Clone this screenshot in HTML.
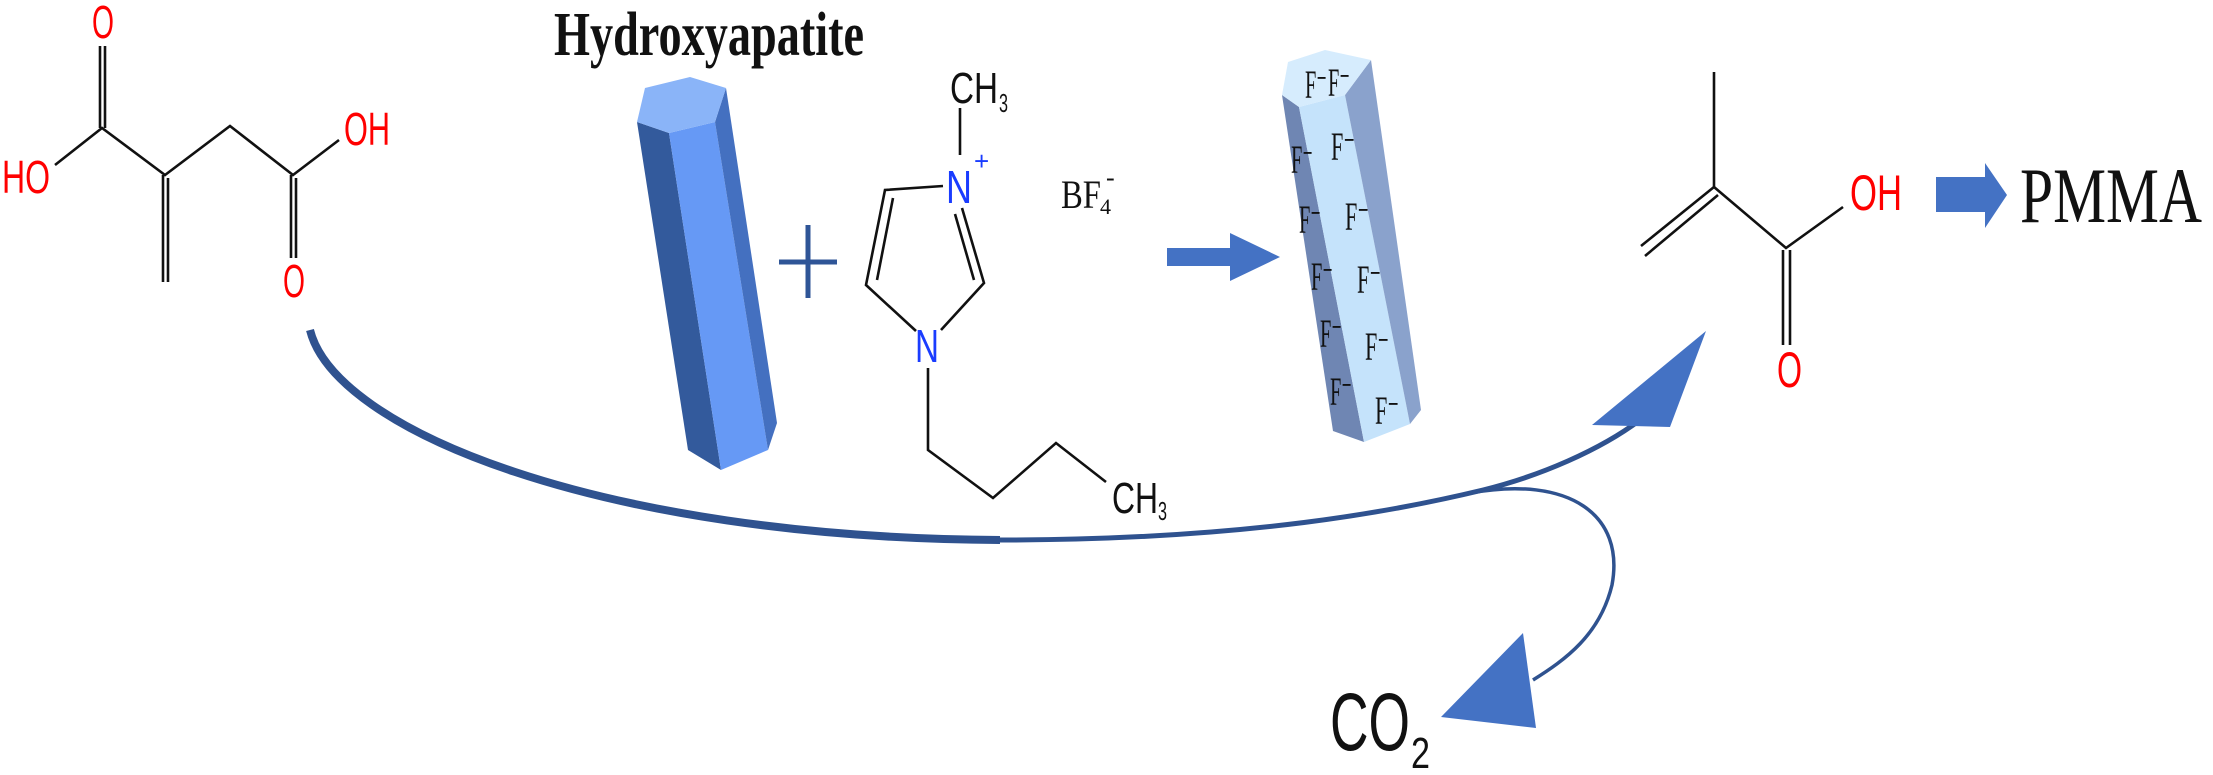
<!DOCTYPE html>
<html><head><meta charset="utf-8"><style>
html,body{margin:0;padding:0;background:#fff;}
svg{display:block;}
.k{stroke:#111;stroke-width:2.6;fill:none;}
.r{fill:#f00;font-family:"Liberation Sans",sans-serif;}
.b{fill:#1a3cff;font-family:"Liberation Sans",sans-serif;}
.t{fill:#111;font-family:"Liberation Serif",serif;}
.s{fill:#111;font-family:"Liberation Sans",sans-serif;}
</style></head><body>
<svg width="2213" height="775" viewBox="0 0 2213 775" xmlns="http://www.w3.org/2000/svg">
<!-- Itaconic acid -->
<text class="r" x="92" y="38" font-size="46" textLength="22" lengthAdjust="spacingAndGlyphs">O</text>
<line class="k" x1="100" y1="46" x2="100" y2="128"/><line class="k" x1="105" y1="46" x2="105" y2="128"/>
<polyline class="k" points="55,165 102,128 165,175 230,126 293,175 339,140"/>
<text class="r" x="2" y="193" font-size="46" textLength="48" lengthAdjust="spacingAndGlyphs">HO</text>
<line class="k" x1="163" y1="175" x2="163" y2="282"/><line class="k" x1="168" y1="178" x2="168" y2="282"/>
<text class="r" x="344" y="145" font-size="46" textLength="46" lengthAdjust="spacingAndGlyphs">OH</text>
<line class="k" x1="291" y1="175" x2="291" y2="258"/><line class="k" x1="296" y1="178" x2="296" y2="258"/>
<text class="r" x="283" y="297" font-size="46" textLength="22" lengthAdjust="spacingAndGlyphs">O</text>

<!-- Hydroxyapatite label -->
<text class="t" x="554" y="55" font-size="62" font-weight="bold" textLength="310" lengthAdjust="spacingAndGlyphs">Hydroxyapatite</text>
<!-- HAp rod -->
<polygon points="637,122 669,133 721,470 688,450" fill="#335a9c"/>
<polygon points="669,133 715,122 768,450 721,470" fill="#6699f5"/>
<polygon points="715,122 726,88 777,423 768,450" fill="#4470c0"/>
<polygon points="637,122 645,88 690,77 726,88 715,122 669,133" fill="#8ab4f8"/>
<!-- plus -->
<line x1="808" y1="225" x2="808" y2="298" stroke="#2f5597" stroke-width="5"/>
<line x1="779" y1="262" x2="837" y2="262" stroke="#2f5597" stroke-width="5"/>

<!-- Imidazolium -->
<text class="s" x="950" y="103" font-size="44" textLength="48" lengthAdjust="spacingAndGlyphs">CH</text>
<text class="s" x="999" y="112" font-size="26" textLength="9" lengthAdjust="spacingAndGlyphs">3</text>
<line class="k" x1="960" y1="108" x2="960" y2="155"/>
<text class="b" x="946" y="203" font-size="46" textLength="26" lengthAdjust="spacingAndGlyphs">N</text>
<text class="b" x="974" y="170" font-size="26">+</text>
<polyline class="k" points="943,186 885,190 866,285 916,331"/>
<line class="k" x1="893" y1="198" x2="877" y2="280"/>
<polyline class="k" points="962,208 984,283 941,330"/>
<line class="k" x1="955" y1="214" x2="974" y2="280"/>
<text class="b" x="915" y="362" font-size="46" textLength="24" lengthAdjust="spacingAndGlyphs">N</text>
<polyline class="k" points="928,368 928,450 993,498 1056,443 1106,482"/>
<text class="s" x="1112" y="513" font-size="44" textLength="46" lengthAdjust="spacingAndGlyphs">CH</text>
<text class="s" x="1158" y="520" font-size="26" textLength="9" lengthAdjust="spacingAndGlyphs">3</text>
<text class="t" x="1061" y="208" font-size="40" textLength="40" lengthAdjust="spacingAndGlyphs">BF</text>
<text class="t" x="1100" y="214" font-size="22">4</text>
<text class="t" x="1106" y="186" font-size="26">-</text>

<!-- arrow -->
<polygon points="1167,248 1230,248 1230,233 1280,257 1230,281 1230,266 1167,266" fill="#4472c4"/>

<!-- F rod -->
<polygon points="1282,95 1299,107 1364,442 1333,431" fill="#6f86b3"/>
<polygon points="1299,107 1345,95 1410,424 1364,442" fill="#c5e3fb"/>
<polygon points="1345,95 1371,60 1421,410 1410,424" fill="#8aa2cc"/>
<polygon points="1282,95 1288,62 1325,50 1371,60 1345,95 1299,107" fill="#d6ecfd"/>
<g class="t" font-size="40">
<text x="1305" y="98" textLength="22" lengthAdjust="spacingAndGlyphs">F⁻</text>
<text x="1328" y="96" textLength="22" lengthAdjust="spacingAndGlyphs">F⁻</text>
<text x="1291" y="173" textLength="22" lengthAdjust="spacingAndGlyphs">F⁻</text>
<text x="1299" y="233" textLength="22" lengthAdjust="spacingAndGlyphs">F⁻</text>
<text x="1311" y="290" textLength="22" lengthAdjust="spacingAndGlyphs">F⁻</text>
<text x="1320" y="347" textLength="22" lengthAdjust="spacingAndGlyphs">F⁻</text>
<text x="1330" y="405" textLength="22" lengthAdjust="spacingAndGlyphs">F⁻</text>
<text x="1331" y="160" textLength="24" lengthAdjust="spacingAndGlyphs">F⁻</text>
<text x="1345" y="230" textLength="24" lengthAdjust="spacingAndGlyphs">F⁻</text>
<text x="1357" y="293" textLength="24" lengthAdjust="spacingAndGlyphs">F⁻</text>
<text x="1365" y="360" textLength="24" lengthAdjust="spacingAndGlyphs">F⁻</text>
<text x="1375" y="424" textLength="24" lengthAdjust="spacingAndGlyphs">F⁻</text>
</g>

<!-- Big curved arrow -->
<path d="M310,330 C335,430 600,538 1000,540" fill="none" stroke="#2f528f" stroke-width="8"/>
<path d="M999,540 C1250,540 1400,510 1483,490 C1540,476 1600,450 1640,420" fill="none" stroke="#2f528f" stroke-width="5"/>
<polygon points="1592,425 1670,427 1706,331" fill="#4472c4"/>
<!-- small arc -->
<path d="M1470,493 C1570,475 1625,515 1612,585 C1600,635 1565,660 1533,680" fill="none" stroke="#2f528f" stroke-width="3.5"/>
<polygon points="1523,633 1536,728 1441,717" fill="#4472c4"/>
<text class="s" x="1330" y="750" font-size="82" textLength="80" lengthAdjust="spacingAndGlyphs">CO</text>
<text class="s" x="1411" y="768" font-size="44" textLength="19" lengthAdjust="spacingAndGlyphs">2</text>

<!-- Methacrylic acid -->
<line class="k" x1="1714" y1="72" x2="1714" y2="187"/>
<line class="k" x1="1714" y1="187" x2="1641" y2="246"/>
<line class="k" x1="1718" y1="195" x2="1645" y2="256"/>
<polyline class="k" points="1714,187 1786,248 1843,207"/>
<text class="r" x="1850" y="210" font-size="50" textLength="52" lengthAdjust="spacingAndGlyphs">OH</text>
<line class="k" x1="1783" y1="250" x2="1783" y2="345"/><line class="k" x1="1790" y1="250" x2="1790" y2="345"/>
<text class="r" x="1777" y="387" font-size="50" textLength="25" lengthAdjust="spacingAndGlyphs">O</text>
<!-- PMMA arrow -->
<polygon points="1936,177 1985,177 1985,163 2007,195 1985,228 1985,212 1936,212" fill="#4472c4"/>
<text class="t" x="2020" y="222" font-size="78" textLength="182" lengthAdjust="spacingAndGlyphs">PMMA</text>
</svg>
</body></html>
